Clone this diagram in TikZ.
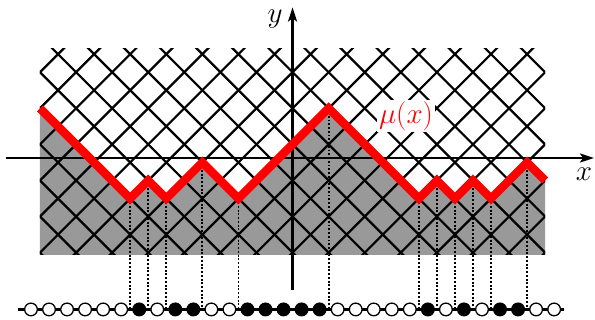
\documentclass[tikz,border=0pt]{standalone}
\usetikzlibrary{arrows.meta}
\begin{document}
\begin{tikzpicture}[x=0.5412cm,y=0.5412cm,
  font=\fontsize{23}{27}\selectfont,
  gridline/.style={line width=1.9pt},
  mupath/.style={red,line width=7.2pt,line join=miter},
  axis/.style={line width=2.4pt,-{Stealth[length=12pt,width=7.5pt,inset=2.5pt]}},
  proj/.style={line width=1.5pt,dash pattern=on 1.6pt off 1.6pt},
  chainline/.style={line width=2.6pt},
  axlabel/.style={inner sep=0pt},
  site/.style={circle,draw,line width=1.1pt,minimum size=0.38cm,inner sep=0pt}
]
\useasboundingbox (-7.217,-6.735) rectangle (25.765,11.003);

% gray area below the path
\fill[black!40] (-5,5) -- (0,0) -- (1,1) -- (2,0) -- (4,2) -- (6,0) -- (11,5)
  -- (16,0) -- (17,1) -- (18,0) -- (19,1) -- (20,0) -- (22,2) -- (23,1)
  -- (23,-3.13) -- (-5,-3.13) -- cycle;

% diagonal lattice
\begin{scope}
  \clip (-5,-3.13) rectangle (23,8.34);
  \foreach \k in {-8,...,14} { \draw[gridline] (2*\k-4,-4) -- (2*\k+9,9); }
  \foreach \k in {-4,...,16} { \draw[gridline] (2*\k+4,-4) -- (2*\k-9,9); }
\end{scope}

% path vertices and projections
\coordinate (vs) at (-5,5);
\coordinate (ve) at (23,1);
\foreach \i/\j [count=\n] in {0/0,1/1,2/0,4/2,6/0,11/5,16/0,17/1,18/0,19/1,20/0,22/2} {
  \coordinate (v\n) at (\i,\j);
  \coordinate (b\n) at (\i,-6.15);
  \draw[proj] (v\n) -- (b\n);
}

% axes
\coordinate (xl) at (-6.9,2.245);
\coordinate (xr) at (25.72,2.245);
\coordinate (yb) at (9,-5.07);
\coordinate (yt) at (9,10.6);
\draw[axis] (xl) -- (xr);
\draw[axis] (yb) -- (yt);

% height function
\draw[mupath] (vs) -- (v1) -- (v2) -- (v3) -- (v4) -- (v5) -- (v6) -- (v7)
  -- (v8) -- (v9) -- (v10) -- (v11) -- (v12) -- (ve);

% labels
\node[axlabel] (ylab) at (8.03,9.97) {$y$};
\node[axlabel] (xlab) at (25.16,1.36) {$x$};
\node[fill=white,text=red,inner sep=1.5pt] (mulab) at (15.29,4.57) {$\mu(x)$};

% particle chain
\coordinate (cl) at (-6.22,-6.15);
\coordinate (cr) at (24.05,-6.15);
\draw[chainline] (cl) -- (cr);
\foreach \c [count=\n from -6] in {white,white,white,white,white,white,black,white,black,black,white,white,black,black,black,black,black,white,white,white,white,white,black,white,black,white,black,black,white,white} {
  \node[site,fill=\c] (s\n) at (\n+0.5,-6.15) {};
}
\end{tikzpicture}
\end{document}
